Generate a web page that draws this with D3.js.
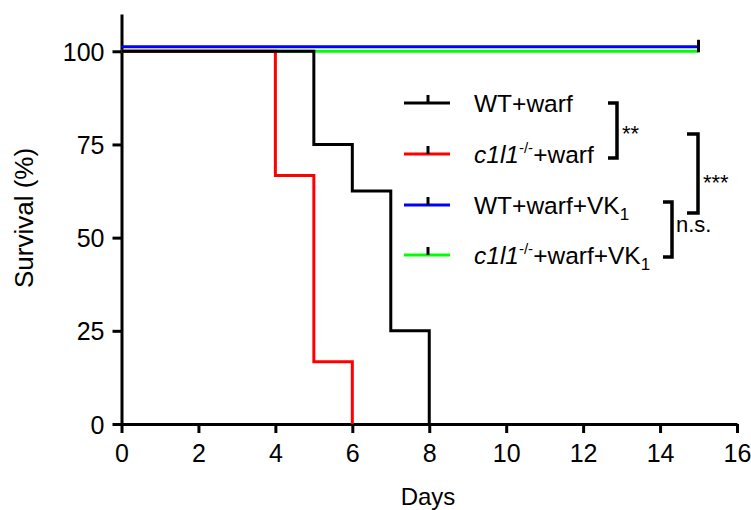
<!DOCTYPE html>
<html lang="en">
  <head>
    <meta charset="utf-8">
    <title>Survival</title>
    <script src="https://d3js.org/d3.v7.min.js"></script>
    <style>
     body { margin: 0; background-color: white; }
     svg { font-family: 'Liberation Sans', Arial, sans-serif; }
     .axis path, .axis line { stroke: #000; stroke-width: 3px; }
     .axis text { fill: #000; font-size: 25px; }
    </style>
  </head>
  <body>
  <div id="chart"></div>
  <script>

  // data
  var xTicks = [0, 2, 4, 6, 8, 10, 12, 14, 16];
  var yTicks = [0, 25, 50, 75, 100];

  var wtWarfDays = [0, 5, 6, 7, 8];
  var wtWarfSurv = [100, 75, 62.5, 25, 0];

  var koWarfDays = [0, 4, 5, 6];
  var koWarfSurv = [100, 66.7, 16.7, 0];

  var wtVkDays = [0, 15];
  var wtVkSurv = [101.2, 101.2];   // drawn slightly above 100 in the figure

  var koVkDays = [0, 15];
  var koVkSurv = [100, 100];

  var seriesColors = ["#000000", "#ff0000", "#0000ff", "#00ff00"];

  var width = 751, height = 510;

  var svg = d3.select("#chart")
    .append("svg")
      .attr("width", width)
      .attr("height", height);

  var x = d3.scaleLinear().domain([0, 16]).range([121.5, 737]);
  var y = d3.scaleLinear().domain([0, 110]).range([424, 14]);

  // axes
  svg.append("g")
      .attr("class", "axis")
      .attr("transform", "translate(0," + y(0) + ")")
      .call(d3.axisBottom(x).tickValues(xTicks).tickSize(9).tickSizeOuter(0))
      .call(function(g) { g.selectAll("text").attr("y", 38).attr("dy", 0); });

  svg.append("g")
      .attr("class", "axis")
      .attr("transform", "translate(" + x(0) + ",0)")
      .call(d3.axisLeft(y).tickValues(yTicks).tickSize(9).tickSizeOuter(0).tickPadding(8))
      .call(function(g) { g.selectAll("text").attr("dy", "0.36em"); });

  // axis titles
  svg.append("text")
      .attr("x", 428).attr("y", 505)
      .attr("text-anchor", "middle")
      .style("font-size", "24px")
      .text("Days");

  svg.append("text")
      .attr("transform", "translate(33,218) rotate(-90)")
      .attr("text-anchor", "middle")
      .style("font-size", "26px")
      .text("Survival (%)");

  var line = d3.line()
      .curve(d3.curveStepAfter)
      .x(function(d) { return x(d[0]); })
      .y(function(d) { return y(d[1]); });

  var curves = [
    { days: koVkDays, surv: koVkSurv, color: seriesColors[3] },
    { days: wtVkDays, surv: wtVkSurv, color: seriesColors[2] },
    { days: koWarfDays, surv: koWarfSurv, color: seriesColors[1] },
    { days: wtWarfDays, surv: wtWarfSurv, color: seriesColors[0] }
  ];

  curves.forEach(function(c) {
    svg.append("path")
        .datum(d3.zip(c.days, c.surv))
        .attr("fill", "none")
        .attr("stroke", c.color)
        .attr("stroke-width", 3)
        .attr("d", line);
  });

  // censor tick at the end of the VK1 curves
  svg.append("line")
      .attr("x1", x(15)).attr("x2", x(15))
      .attr("y1", y(wtVkSurv[1]) - 7).attr("y2", y(koVkSurv[1]) + 1)
      .attr("stroke", "#000").attr("stroke-width", 3);

  // legend
  var legY = [103, 154, 205, 255];
  var leg = svg.append("g");
  seriesColors.forEach(function(col, i) {
    leg.append("line")
        .attr("x1", 404).attr("x2", 450)
        .attr("y1", legY[i]).attr("y2", legY[i])
        .attr("stroke", col).attr("stroke-width", 3);
    leg.append("line")
        .attr("x1", 428).attr("x2", 428)
        .attr("y1", legY[i] - 8).attr("y2", legY[i])
        .attr("stroke", "#000").attr("stroke-width", 3);
  });

  function legendLabel(i, ko, vk) {
    var t = leg.append("text")
        .attr("x", 474).attr("y", legY[i] + 9)
        .style("font-size", "24.5px");
    if (ko) {
      t.append("tspan").style("font-style", "italic").text("c1l1");
      t.append("tspan").attr("dy", -10).style("font-size", "15px").text("-/-");
      t.append("tspan").attr("dy", 10).text(vk ? "+warf+VK" : "+warf");
    } else {
      t.append("tspan").text(vk ? "WT+warf+VK" : "WT+warf");
    }
    if (vk) t.append("tspan").attr("dy", 6).style("font-size", "17px").text("1");
  }
  legendLabel(0, false, false);
  legendLabel(1, true, false);
  legendLabel(2, false, true);
  legendLabel(3, true, true);

  // significance brackets
  function bracket(xb, y1, y2, arm, label, lx, ly) {
    svg.append("path")
        .attr("d", "M" + (xb - arm) + "," + y1 + "H" + xb + "V" + y2 + "H" + (xb - arm))
        .attr("fill", "none").attr("stroke", "#000").attr("stroke-width", 3.5);
    svg.append("text")
        .attr("x", lx).attr("y", ly)
        .style("font-size", "22px")
        .text(label);
  }
  bracket(617, 103, 158, 9, "**", 622, 141);
  bracket(698, 134, 213, 11, "***", 703, 190);
  bracket(672, 202, 257, 9, "n.s.", 676, 232);

</script>
  </body>
</html>
